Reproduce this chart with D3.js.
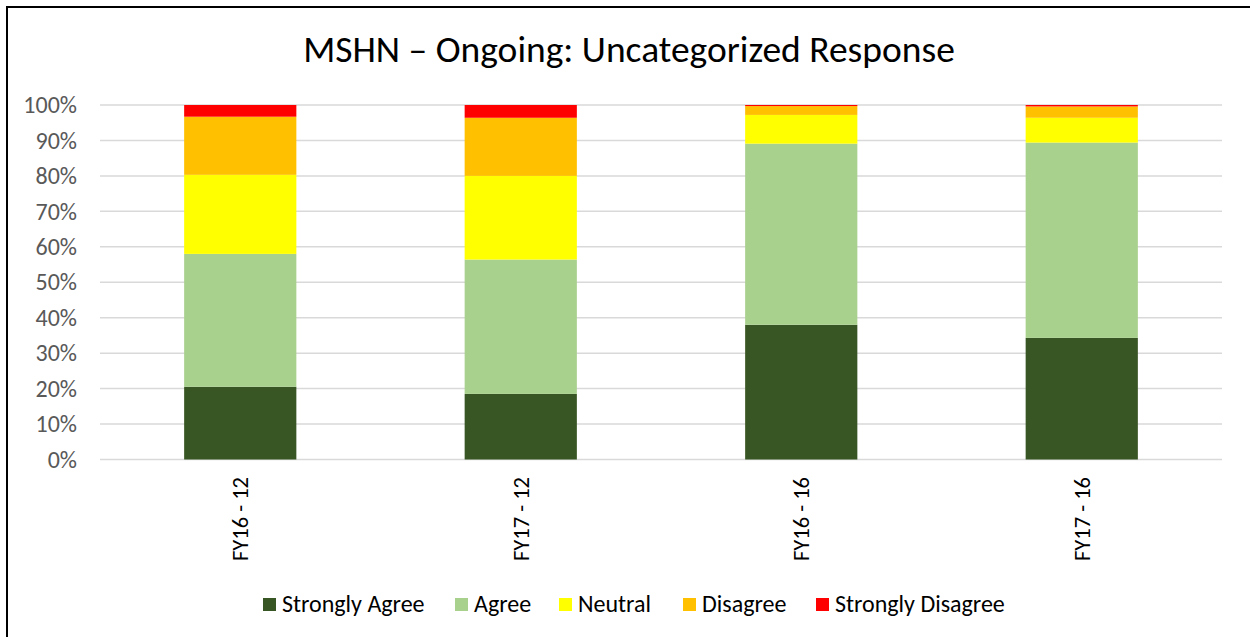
<!DOCTYPE html>
<html>
<head>
<meta charset="utf-8">
<script src="https://cdn.jsdelivr.net/npm/d3@7"></script>
<style>
  html, body { margin: 0; padding: 0; background: #fff; }
  svg { display: block; font-family: Carlito, Calibri, Lato, sans-serif; }
</style>
</head>
<body>
<svg id="chart" width="1250" height="637"></svg>
<script>
const title = "MSHN – Ongoing: Uncategorized Response";
const categories = ["FY16 - 12", "FY17 - 12", "FY16 - 16", "FY17 - 16"];
const seriesNames = ["Strongly Agree", "Agree", "Neutral", "Disagree", "Strongly Disagree"];
const seriesColors = ["#375623", "#a9d18e", "#ffff00", "#ffc000", "#ff0000"];
const stronglyAgree = [20.5, 18.5, 38.0, 34.3];
const agree = [37.5, 37.9, 51.1, 55.1];
const neutral = [22.3, 23.6, 8.1, 7.0];
const disagree = [16.4, 16.4, 2.5, 3.2];
const stronglyDisagree = [3.3, 3.6, 0.3, 0.4];
const yTicks = [0, 10, 20, 30, 40, 50, 60, 70, 80, 90, 100];

const seriesValues = [stronglyAgree, agree, neutral, disagree, stronglyDisagree];
const rows = categories.map((c, i) => {
  const r = { cat: c };
  seriesNames.forEach((s, k) => r[s] = seriesValues[k][i]);
  return r;
});

const svg = d3.select("#chart");
const W = 1250, H = 637;
const m = { left: 100, right: 28, top: 105, bottom: 178 };
const FONT = "Carlito, Calibri, Lato, sans-serif";

// frame
svg.append("rect").attr("x", 7).attr("y", 7).attr("width", W + 10).attr("height", H + 10)
  .attr("fill", "none").attr("stroke", "#000").attr("stroke-width", 2);

const x = d3.scaleBand().domain(categories).range([m.left, W - m.right])
  .paddingInner(0.6).paddingOuter(0.3);
const y = d3.scaleLinear().domain([0, 100]).range([H - m.bottom + 0.5, m.top]);

// gridlines
svg.append("g").selectAll("line").data(yTicks).join("line")
  .attr("x1", m.left).attr("x2", W - m.right)
  .attr("y1", d => y(d)).attr("y2", d => y(d))
  .attr("stroke", "#d9d9d9").attr("stroke-width", 1.5);

// y axis labels
const yAxis = d3.axisLeft(y).tickValues(yTicks).tickFormat(d => d + "%").tickSize(0).tickPadding(0);
const gy = svg.append("g").attr("transform", `translate(${m.left - 23},0)`).call(yAxis);
gy.select(".domain").remove();
gy.selectAll("text").attr("fill", "#595959").style("font-size", "24px")
  .style("font-family", FONT);

// stacked bars
const stack = d3.stack().keys(seriesNames);
const stacked = stack(rows);
svg.append("g").selectAll("g").data(stacked).join("g")
  .attr("fill", (d, i) => seriesColors[i])
  .selectAll("rect").data(d => d).join("rect")
  .attr("x", d => x(d.data.cat))
  .attr("width", x.bandwidth())
  .attr("y", d => y(d[1]))
  .attr("height", d => y(d[0]) - y(d[1]));

// x axis labels (rotated)
const xAxis = d3.axisBottom(x).tickSize(0).tickPadding(0);
const gx = svg.append("g").attr("transform", `translate(0,${H - m.bottom + 18})`).call(xAxis);
gx.select(".domain").remove();
gx.selectAll("text")
  .attr("transform", "rotate(-90)")
  .attr("text-anchor", "end")
  .attr("dy", "0.35em")
  .attr("x", 0).attr("y", 0)
  .attr("fill", "#000").style("font-size", "22.5px")
  .style("font-family", FONT);

// title
svg.append("text").attr("x", 629).attr("y", 62).attr("text-anchor", "middle")
  .style("font-size", "37.5px").attr("fill", "#000").text(title);

// legend
const legendX = [263, 455, 559, 683, 816];
const lg = svg.append("g").selectAll("g").data(seriesNames).join("g")
  .attr("transform", (d, i) => `translate(${legendX[i]},598)`);
lg.append("rect").attr("width", 13).attr("height", 13).attr("fill", (d, i) => seriesColors[i]);
lg.append("text").attr("x", 19).attr("y", 14).style("font-size", "24px").attr("fill", "#000").text(d => d);
</script>
</body>
</html>
